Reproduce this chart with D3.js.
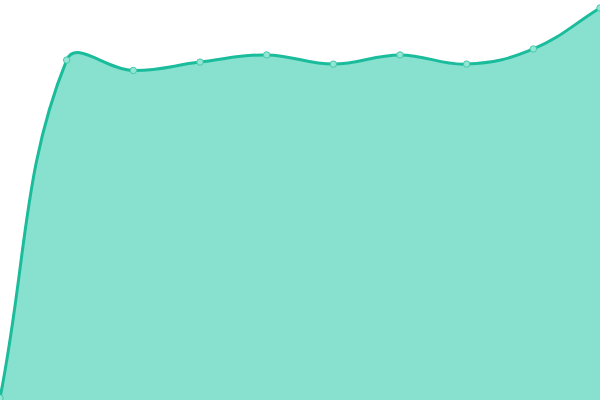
<!DOCTYPE html>
<html>
<head>
<meta charset="utf-8">
<script src="https://cdn.jsdelivr.net/npm/d3@7"></script>
<style>
  html, body { margin: 0; padding: 0; background: #fff; }
  svg { display: block; }
</style>
</head>
<body>
<div id="chart"></div>
<script>
var labels = ["1", "2", "3", "4", "5", "6", "7", "8", "9", "10"];
var values = [0, 84.9, 82.3, 84.4, 86.2, 83.9, 86.2, 83.9, 87.7, 98];

var width = 600, height = 400;
var x = d3.scalePoint().domain(labels).range([0, width]);
var y = d3.scaleLinear().domain([0, 100]).range([398, 0]);

var svg = d3.select("#chart").append("svg")
  .attr("width", width).attr("height", height);

var pts = values.map(function(v, i) { return { x: x(labels[i]), y: y(v) }; });

// spline control points, distance weighted (tension 0.4)
var tension = 0.4;
pts.forEach(function(p, i) {
  var prev = pts[i - 1] || p, next = pts[i + 1] || p;
  var d01 = Math.hypot(p.x - prev.x, p.y - prev.y);
  var d12 = Math.hypot(next.x - p.x, next.y - p.y);
  var s01 = d01 / (d01 + d12 || 1), s12 = d12 / (d01 + d12 || 1);
  var fa = tension * s01, fb = tension * s12;
  p.cpPrev = { x: p.x - fa * (next.x - prev.x), y: Math.min(height, Math.max(0, p.y - fa * (next.y - prev.y))) };
  p.cpNext = { x: p.x + fb * (next.x - prev.x), y: Math.min(height, Math.max(0, p.y + fb * (next.y - prev.y))) };
});

function linePath(path) {
  path.moveTo(pts[0].x, pts[0].y);
  for (var i = 1; i < pts.length; i++) {
    var a = pts[i - 1], b = pts[i];
    path.bezierCurveTo(a.cpNext.x, a.cpNext.y, b.cpPrev.x, b.cpPrev.y, b.x, b.y);
  }
  return path;
}

var area = linePath(d3.path());
area.lineTo(pts[pts.length - 1].x, height);
area.lineTo(pts[0].x, height);
area.closePath();

svg.append("path")
  .attr("d", area.toString())
  .attr("fill", "#88e0cf");

svg.append("path")
  .attr("d", linePath(d3.path()).toString())
  .attr("fill", "none")
  .attr("stroke", "#1abc9c")
  .attr("stroke-width", 3);

svg.selectAll("circle").data(pts).enter().append("circle")
  .attr("cx", function(d) { return d.x; })
  .attr("cy", function(d) { return d.y; })
  .attr("r", 3.2)
  .attr("fill", "#93e6d4")
  .attr("stroke", "#45c9ab")
  .attr("stroke-width", 1);
</script>
</body>
</html>
